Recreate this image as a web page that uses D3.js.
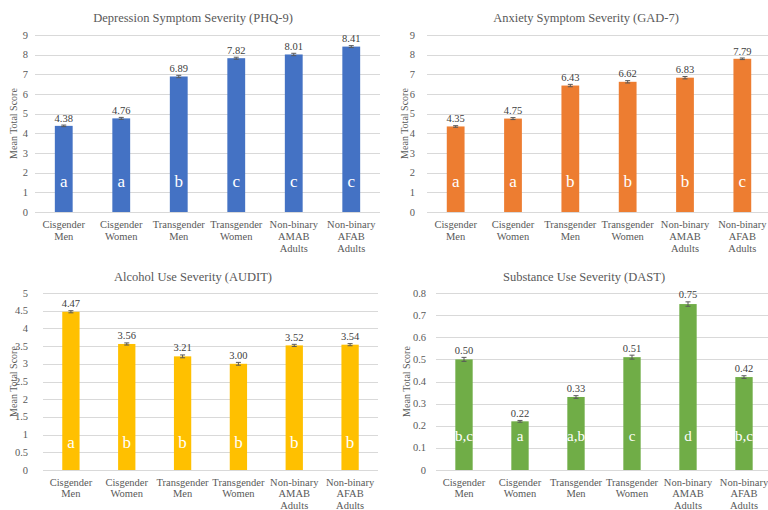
<!DOCTYPE html>
<html>
<head>
<meta charset="utf-8">
<script src="https://cdn.jsdelivr.net/npm/d3@7"></script>
<style>
  body { margin: 0; background: #fff; }
  svg { display: block; }
  svg text { font-family: "Liberation Serif", "Times New Roman", Times, serif; }
</style>
</head>
<body>
<svg id="chart" width="768" height="510"></svg>
<script>
// Groups compared in every panel (wrapped into lines for the axis)
const groups = [
  ["Cisgender", "Men"],
  ["Cisgender", "Women"],
  ["Transgender", "Men"],
  ["Transgender", "Women"],
  ["Non-binary", "AMAB", "Adults"],
  ["Non-binary", "AFAB", "Adults"]
];

// Depression (PHQ-9)
const phqMeans   = [4.38, 4.76, 6.89, 7.82, 8.01, 8.41];
const phqErrors  = [0.04, 0.05, 0.06, 0.05, 0.06, 0.05];
const phqLetters = ["a", "a", "b", "c", "c", "c"];
const phqTicks   = [0, 1, 2, 3, 4, 5, 6, 7, 8, 9];

// Anxiety (GAD-7)
const gadMeans   = [4.35, 4.75, 6.43, 6.62, 6.83, 7.79];
const gadErrors  = [0.04, 0.05, 0.06, 0.06, 0.06, 0.04];
const gadLetters = ["a", "a", "b", "b", "b", "c"];
const gadTicks   = [0, 1, 2, 3, 4, 5, 6, 7, 8, 9];

// Alcohol use (AUDIT)
const auditMeans   = [4.47, 3.56, 3.21, 3.00, 3.52, 3.54];
const auditErrors  = [0.03, 0.03, 0.04, 0.04, 0.03, 0.03];
const auditLetters = ["a", "b", "b", "b", "b", "b"];
const auditTicks   = [0, 0.5, 1, 1.5, 2, 2.5, 3, 3.5, 4, 4.5, 5];

// Substance use (DAST)
const dastMeans   = [0.50, 0.22, 0.33, 0.51, 0.75, 0.42];
const dastErrors  = [0.009, 0.004, 0.006, 0.009, 0.010, 0.006];
const dastLetters = ["b,c", "a", "a,b", "c", "d", "b,c"];
const dastTicks   = [0, 0.1, 0.2, 0.3, 0.4, 0.5, 0.6, 0.7, 0.8];

const FONT = "'Liberation Serif', 'Times New Roman', Times, serif";
const svg = d3.select("#chart").attr("font-family", FONT);
const fmtVal = d3.format(".2f");
const fmtTick = d3.format("~g");

const panels = [
  { title: "Depression Symptom Severity (PHQ-9)", means: phqMeans, errors: phqErrors, letters: phqLetters, ticks: phqTicks,
    color: "#4472C4", x0: 35, x1: 380, yTop: 35, yBot: 212, tickX: 28, titleX: 193, titleY: 22, axisTitleX: 17, labelY: 228,
    lineH: 12.2, letterOff: 25, letterSize: 17 },
  { title: "Anxiety Symptom Severity (GAD-7)", means: gadMeans, errors: gadErrors, letters: gadLetters, ticks: gadTicks,
    color: "#ED7D31", x0: 427, x1: 771, yTop: 35, yBot: 212, tickX: 415, titleX: 586, titleY: 22, axisTitleX: 408, labelY: 228,
    lineH: 12.2, letterOff: 25, letterSize: 17 },
  { title: "Alcohol Use Severity (AUDIT)", means: auditMeans, errors: auditErrors, letters: auditLetters, ticks: auditTicks,
    color: "#FFC000", x0: 43, x1: 378, yTop: 293, yBot: 470, tickX: 28, titleX: 193, titleY: 281, axisTitleX: 17, labelY: 486,
    lineH: 11.3, letterOff: 22, letterSize: 17 },
  { title: "Substance Use Severity (DAST)", means: dastMeans, errors: dastErrors, letters: dastLetters, ticks: dastTicks,
    color: "#70AD47", x0: 436, x1: 772, yTop: 293, yBot: 470, tickX: 426, titleX: 584, titleY: 281, axisTitleX: 410, labelY: 486,
    lineH: 11.3, letterOff: 29, letterSize: 15 }
];

panels.forEach(p => {
  const g = svg.append("g");
  const idx = d3.range(groups.length);

  const x = d3.scaleBand()
    .domain(idx)
    .range([p.x0, p.x1])
    .paddingInner(0.69)
    .paddingOuter(0.345);

  const y = d3.scaleLinear()
    .domain([0, d3.max(p.ticks)])
    .range([p.yBot, p.yTop]);

  // gridlines
  g.append("g")
    .selectAll("line")
    .data(p.ticks)
    .join("line")
    .attr("x1", p.x0)
    .attr("x2", p.x1)
    .attr("y1", d => Math.round(y(d)) + 0.5)
    .attr("y2", d => Math.round(y(d)) + 0.5)
    .attr("stroke", "#d9d9d9")
    .attr("stroke-width", 1);

  // tick labels
  g.append("g")
    .selectAll("text")
    .data(p.ticks)
    .join("text")
    .attr("x", p.tickX)
    .attr("y", d => y(d) + 3.5)
    .attr("text-anchor", "end")
    .attr("font-size", 10.5)
    .attr("fill", "#595959")
    .text(d => fmtTick(d));

  // axis title
  g.append("text")
    .attr("transform", `translate(${p.axisTitleX},${(p.yTop + p.yBot) / 2}) rotate(-90)`)
    .attr("text-anchor", "middle")
    .attr("font-size", 10)
    .attr("fill", "#595959")
    .text("Mean Total Score");

  // chart title
  g.append("text")
    .attr("x", p.titleX)
    .attr("y", p.titleY)
    .attr("text-anchor", "middle")
    .attr("font-size", 12.5)
    .attr("fill", "#595959")
    .text(p.title);

  // bars
  g.append("g")
    .selectAll("rect")
    .data(idx)
    .join("rect")
    .attr("x", i => x(i))
    .attr("width", x.bandwidth())
    .attr("y", i => y(p.means[i]))
    .attr("height", i => y(0) - y(p.means[i]))
    .attr("fill", p.color);

  // error bars
  const eb = g.append("g")
    .attr("stroke", "#595959")
    .attr("stroke-width", 1);
  idx.forEach(i => {
    const cx = x(i) + x.bandwidth() / 2;
    const hi = y(p.means[i] + p.errors[i]);
    const lo = y(p.means[i] - p.errors[i]);
    eb.append("line").attr("x1", cx).attr("x2", cx).attr("y1", hi).attr("y2", lo);
    eb.append("line").attr("x1", cx - 2.5).attr("x2", cx + 2.5).attr("y1", hi).attr("y2", hi);
    eb.append("line").attr("x1", cx - 2.5).attr("x2", cx + 2.5).attr("y1", lo).attr("y2", lo);
  });

  // value labels
  g.append("g")
    .selectAll("text")
    .data(idx)
    .join("text")
    .attr("x", i => x(i) + x.bandwidth() / 2)
    .attr("y", i => y(p.means[i] + p.errors[i]) - 3.5)
    .attr("text-anchor", "middle")
    .attr("font-size", 10.5)
    .attr("fill", "#404040")
    .text(i => fmtVal(p.means[i]));

  // significance letters inside bars
  g.append("g")
    .selectAll("text")
    .data(idx)
    .join("text")
    .attr("x", i => x(i) + x.bandwidth() / 2)
    .attr("y", p.yBot - p.letterOff)
    .attr("text-anchor", "middle")
    .attr("font-size", p.letterSize)
    .attr("fill", "#ffffff")
    .text(i => p.letters[i]);

  // category labels
  const cat = g.append("g")
    .selectAll("text")
    .data(idx)
    .join("text")
    .attr("x", i => x(i) + x.bandwidth() / 2)
    .attr("y", p.labelY)
    .attr("text-anchor", "middle")
    .attr("font-size", 10.5)
    .attr("fill", "#595959");
  cat.selectAll("tspan")
    .data(i => groups[i])
    .join("tspan")
    .attr("x", function () { return d3.select(this.parentNode).attr("x"); })
    .attr("dy", (d, k) => k === 0 ? 0 : p.lineH)
    .text(d => d);
});
</script>
</body>
</html>
